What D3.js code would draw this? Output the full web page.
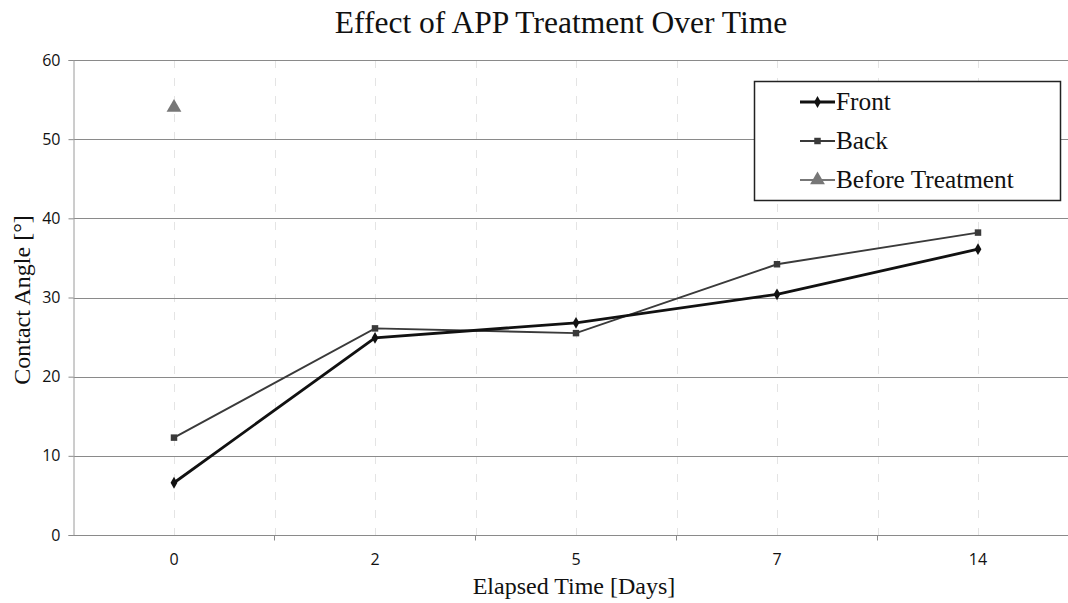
<!DOCTYPE html>
<html><head><meta charset="utf-8">
<script src="https://cdn.jsdelivr.net/npm/d3@7"></script>
<style>body{margin:0;background:#fff}</style>
</head><body>
<svg id="c" width="1068" height="603"></svg>
<script>
const categories = ["0", "2", "5", "7", "14"];
const frontValues = [6.6, 24.9, 26.8, 30.4, 36.1];
const backValues = [12.3, 26.1, 25.5, 34.2, 38.2];
const beforeCategories = ["0"];
const beforeValues = [54];
const yTicks = [0, 10, 20, 30, 40, 50, 60];
const seriesNames = ["Front", "Back", "Before Treatment"];

(function () {
const svg = d3.select("#c");
const pLeft = 73.5, pRight = 1078.5, pTop = 60, pBottom = 535;
const x = d3.scalePoint().domain(categories).range([pLeft, pRight]).padding(0.5);
const xb = d3.scaleBand().domain(categories).range([pLeft, pRight]).padding(0);
const y = d3.scaleLinear().domain([0, 60]).range([pBottom, pTop]);

// faint vertical gridlines
const vlines = categories.map(c => x(c)).concat(categories.slice(1).map(c => xb(c)));
svg.append("g").selectAll("line").data(vlines).join("line")
  .attr("x1", d => Math.round(d) + 0.5).attr("x2", d => Math.round(d) + 0.5).attr("y1", pTop).attr("y2", pBottom)
  .attr("stroke", "#e4e4e4").attr("stroke-width", 1).attr("stroke-dasharray", "8,10");

// horizontal gridlines
svg.append("g").selectAll("line").data(yTicks.filter(t => t > 0)).join("line")
  .attr("x1", pLeft).attr("x2", 1068).attr("y1", d => Math.round(y(d)) + 0.5).attr("y2", d => Math.round(y(d)) + 0.5)
  .attr("stroke", "#8a8a8a").attr("stroke-width", 1);

// y axis
const yAxis = svg.append("g").attr("transform", `translate(${pLeft},0)`)
  .call(d3.axisLeft(y).tickValues(yTicks).tickSize(5).tickPadding(8));
yAxis.select(".domain").attr("stroke", "#9a9a9a");
yAxis.selectAll(".tick line").attr("stroke", "#8a8a8a");
yAxis.selectAll("text").attr("font-family", "Open Sans").attr("font-size", 16).attr("fill", "#111");

// x axis
const xAxisG = svg.append("g").attr("transform", `translate(0,${Math.round(pBottom) + 0.5})`);
xAxisG.append("line").attr("x1", pLeft).attr("x2", 1068).attr("stroke", "#8a8a8a");
xAxisG.selectAll("line.t").data(categories.slice(1)).join("line").attr("class", "t")
  .attr("x1", d => xb(d)).attr("x2", d => xb(d)).attr("y1", 0).attr("y2", 5).attr("stroke", "#8a8a8a");
xAxisG.selectAll("text").data(categories).join("text")
  .attr("x", d => x(d)).attr("y", 29).attr("text-anchor", "middle")
  .attr("font-family", "Open Sans").attr("font-size", 16).attr("fill", "#111").text(d => d);

// lines
const line = d3.line().x((d, i) => x(categories[i])).y(d => y(d));
svg.append("path").datum(backValues).attr("d", line).attr("fill", "none")
  .attr("stroke", "#3a3a3a").attr("stroke-width", 1.9);
svg.append("path").datum(frontValues).attr("d", line).attr("fill", "none")
  .attr("stroke", "#111").attr("stroke-width", 2.8);

// markers
const sq = d3.symbol().type(d3.symbolSquare).size(42);
const dia = d3.symbol().type(d3.symbolDiamond).size(40);
const tri = d3.symbol().type(d3.symbolTriangle).size(95);
svg.append("g").selectAll("path").data(backValues).join("path")
  .attr("d", sq).attr("transform", (d, i) => `translate(${x(categories[i])},${y(d)})`).attr("fill", "#3a3a3a");
svg.append("g").selectAll("path").data(frontValues).join("path")
  .attr("d", dia).attr("transform", (d, i) => `translate(${x(categories[i])},${y(d)})`).attr("fill", "#111");
svg.append("g").selectAll("path").data(beforeValues).join("path")
  .attr("d", tri).attr("transform", (d, i) => `translate(${x(beforeCategories[i])},${y(d)})`).attr("fill", "#777");

// title
svg.append("text").attr("x", 561).attr("y", 33).attr("text-anchor", "middle")
  .attr("font-family", "Liberation Serif").attr("font-size", 31.5).attr("fill", "#111")
  .text("Effect of APP Treatment Over Time");
// axis titles
svg.append("text").attr("x", 574).attr("y", 594).attr("text-anchor", "middle")
  .attr("font-family", "Liberation Serif").attr("font-size", 24).attr("fill", "#111")
  .text("Elapsed Time [Days]");
svg.append("text").attr("transform", "translate(30,300) rotate(-90)").attr("text-anchor", "middle")
  .attr("font-family", "Liberation Serif").attr("font-size", 24).attr("fill", "#111")
  .text("Contact Angle [°]");

// legend
const lg = svg.append("g");
lg.append("rect").attr("x", 754.5).attr("y", 81.5).attr("width", 306).attr("height", 119)
  .attr("fill", "#fff").attr("stroke", "#222").attr("stroke-width", 1.5);
const legendStyles = [
  {color: "#111", w: 2.8, sym: dia},
  {color: "#3a3a3a", w: 1.9, sym: sq},
  {color: "#777", w: 1.9, sym: tri}
];
const rowsY = [102, 141, 180];
seriesNames.forEach((n, i) => {
  const g = lg.append("g").attr("transform", `translate(0,${rowsY[i]})`);
  g.append("line").attr("x1", 800).attr("x2", 835).attr("stroke", legendStyles[i].color).attr("stroke-width", legendStyles[i].w);
  g.append("path").attr("d", legendStyles[i].sym).attr("transform", "translate(817.5,0)").attr("fill", legendStyles[i].color);
  g.append("text").attr("x", 836).attr("y", 8).attr("font-family", "Liberation Serif").attr("font-size", 25.3).attr("fill", "#111").text(n);
});
})();
</script>
</body></html>
